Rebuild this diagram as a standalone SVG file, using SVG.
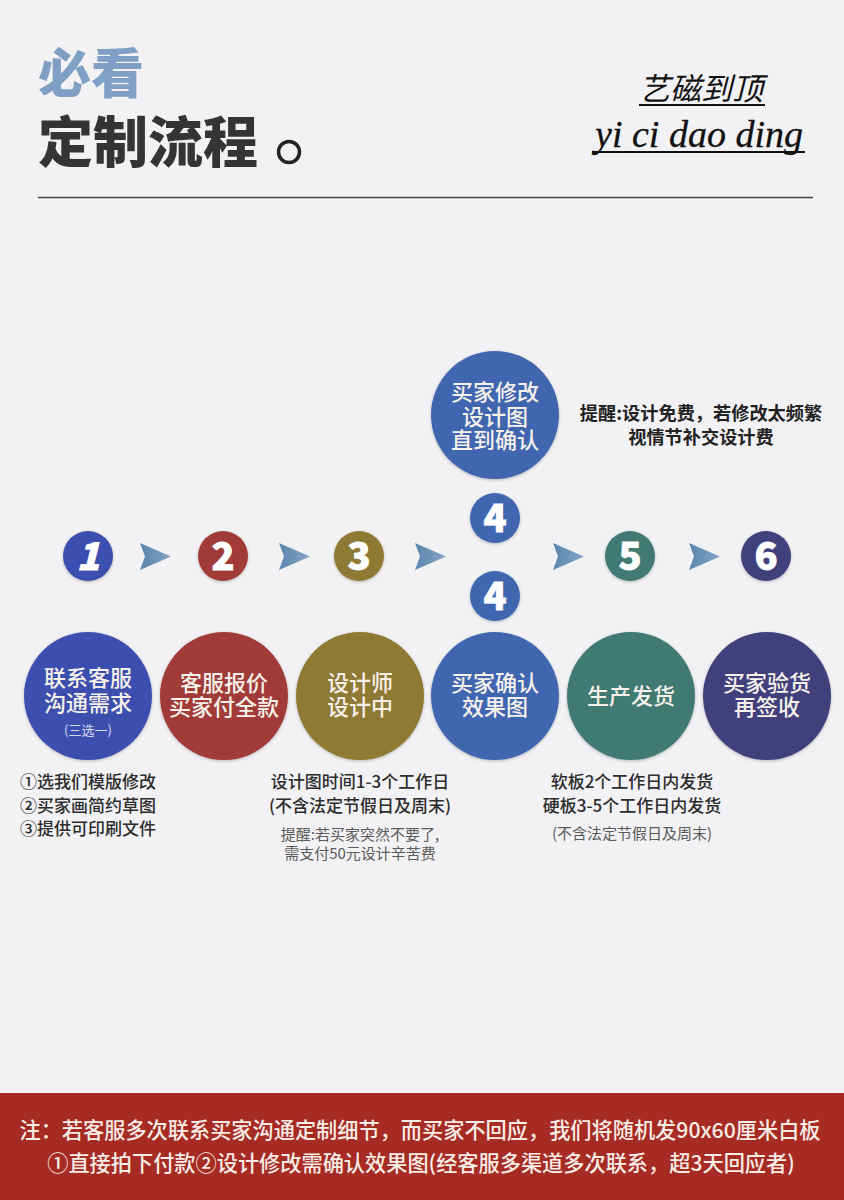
<svg xmlns="http://www.w3.org/2000/svg" width="844" height="1200" viewBox="0 0 844 1200">
<style>
text{font-family:"Noto Sans CJK SC","Liberation Sans",sans-serif;text-anchor:middle}
.t{font-size:22px;font-weight:500;fill:#f6f1ea}
.n{font-size:38px;font-weight:900;fill:#fff;stroke:#fff;stroke-width:.8;font-family:"Noto Sans CJK SC","Liberation Sans",sans-serif}
.s{font-size:17px;font-weight:500;fill:#2c2c2c}
.g{font-size:15px;font-weight:400;fill:#5a5a5a}
.f{font-size:21.2px;font-weight:500;fill:#f8ece6}
.a{fill:url(#ga)}
</style>
<defs>
<filter id="sh" x="-20%" y="-20%" width="140%" height="140%"><feDropShadow dx="0" dy="1" stdDeviation="1.5" flood-color="#000" flood-opacity=".25"/></filter>
<linearGradient id="ga" x1="0" x2="1" y1="0" y2="0"><stop offset="0" stop-color="#5a86ad"/><stop offset="1" stop-color="#86a3c4"/></linearGradient>
<polygon id="arr" points="0,0 31,13.500 0,27 5,13.500"/>
</defs>
<rect width="844" height="1200" fill="#f2f2f4"/>
<g id="header">
<text x="91" y="93" style="font-size:53px;font-weight:900;fill:#7f9fc4">必看</text>
<text x="148" y="162" style="font-size:55px;font-weight:900;fill:#333436">定制流程</text>
<circle cx="289" cy="152" r="10.500" fill="none" stroke="#222" stroke-width="3.500"/>
<text x="701" y="100" style="font-family:'Liberation Serif','Noto Sans CJK SC',serif;font-size:31px;font-style:italic;fill:#111">艺磁到顶</text>
<line x1="639" y1="105" x2="765" y2="105" stroke="#111" stroke-width="2"/>
<text x="699" y="147" style="font-family:'Liberation Serif',serif;font-size:38px;font-style:italic;fill:#111;stroke:#111;stroke-width:.3">yi ci dao ding</text>
<line x1="592" y1="152" x2="805" y2="152" stroke="#111" stroke-width="2"/>
<line x1="38" y1="197.500" x2="813" y2="197.500" stroke="#444" stroke-width="1.500"/>
</g>
<g id="connectors">
<use href="#arr" class="a" x="140" y="543"/>
<use href="#arr" class="a" x="279" y="543"/>
<use href="#arr" class="a" x="415" y="543"/>
<use href="#arr" class="a" x="553" y="543"/>
<use href="#arr" class="a" x="689" y="543"/>
</g>
<g id="num1"><circle cx="88" cy="556" r="25" fill="#3e4fae" filter="url(#sh)"/><text class="n" x="88" y="570" style="font-style:italic">1</text></g>
<g id="num2"><circle cx="223" cy="556" r="25" fill="#a13b37" filter="url(#sh)"/><text class="n" x="223" y="570">2</text></g>
<g id="num3"><circle cx="359" cy="556" r="25" fill="#8e7a35" filter="url(#sh)"/><text class="n" x="359" y="570">3</text></g>
<g id="num4a"><circle cx="495" cy="518" r="25" fill="#3f66b0" filter="url(#sh)"/><text class="n" x="495" y="532">4</text></g>
<g id="num4b"><circle cx="495" cy="596" r="25" fill="#3f66b0" filter="url(#sh)"/><text class="n" x="495" y="610">4</text></g>
<g id="num5"><circle cx="630" cy="556" r="25" fill="#3f7a72" filter="url(#sh)"/><text class="n" x="630" y="570">5</text></g>
<g id="num6"><circle cx="766" cy="556" r="25" fill="#413f7c" filter="url(#sh)"/><text class="n" x="766" y="570">6</text></g>
<g id="revise"><circle cx="495" cy="415" r="64" fill="#3f66b0" filter="url(#sh)"/>
<text class="t"><tspan x="495" y="400">买家修改</tspan><tspan x="495" dy="25">设计图</tspan><tspan x="495" dy="23">直到确认</tspan></text></g>
<g id="step1"><circle cx="88" cy="696" r="64" fill="#3e4fae" filter="url(#sh)"/>
<text class="t"><tspan x="88" y="686">联系客服</tspan><tspan x="88" dy="25">沟通需求</tspan><tspan x="88" dy="24" style="font-size:13px;font-weight:400;fill:#d8dcf0">(三选一)</tspan></text></g>
<g id="step2"><circle cx="224" cy="696" r="64" fill="#a13b37" filter="url(#sh)"/>
<text class="t"><tspan x="224" y="691">客服报价</tspan><tspan x="224" dy="24">买家付全款</tspan></text></g>
<g id="step3"><circle cx="360" cy="696" r="64" fill="#8e7a35" filter="url(#sh)"/>
<text class="t"><tspan x="360" y="691">设计师</tspan><tspan x="360" dy="24">设计中</tspan></text></g>
<g id="step4"><circle cx="495" cy="696" r="64" fill="#3f66b0" filter="url(#sh)"/>
<text class="t"><tspan x="495" y="691">买家确认</tspan><tspan x="495" dy="24">效果图</tspan></text></g>
<g id="step5"><circle cx="631" cy="696" r="64" fill="#3f7a72" filter="url(#sh)"/>
<text class="t" x="631" y="704">生产发货</text></g>
<g id="step6"><circle cx="767" cy="696" r="64" fill="#413f7c" filter="url(#sh)"/>
<text class="t"><tspan x="767" y="691">买家验货</tspan><tspan x="767" dy="24">再签收</tspan></text></g>
<g id="notes">
<text style="font-size:18.200px;font-weight:700;fill:#222"><tspan x="701" y="420">提醒:设计免费，若修改太频繁</tspan><tspan x="701" dy="24">视情节补交设计费</tspan></text>
<text class="s"><tspan x="88" y="788">①选我们模版修改</tspan><tspan x="88" dy="23.500">②买家画简约草图</tspan><tspan x="88" dy="23.500">③提供可印刷文件</tspan></text>
<text class="s"><tspan x="360" y="788">设计图时间1-3个工作日</tspan><tspan x="360" dy="24">(不含法定节假日及周末)</tspan></text>
<text class="g"><tspan x="360" y="840">提醒:若买家突然不要了,</tspan><tspan x="360" dy="19">需支付50元设计辛苦费</tspan></text>
<text class="s"><tspan x="632" y="788">软板2个工作日内发货</tspan><tspan x="632" dy="24">硬板3-5个工作日内发货</tspan></text>
<text class="g" x="632" y="839">(不含法定节假日及周末)</text>
</g>
<g id="footer">
<rect y="1093" width="844" height="107" fill="#a62b23"/>
<text class="f"><tspan x="420" y="1138">注：若客服多次联系买家沟通定制细节，而买家不回应，我们将随机发90x60厘米白板</tspan><tspan x="421" dy="33">①直接拍下付款②设计修改需确认效果图(经客服多渠道多次联系，超3天回应者)</tspan></text>
</g>
</svg>
